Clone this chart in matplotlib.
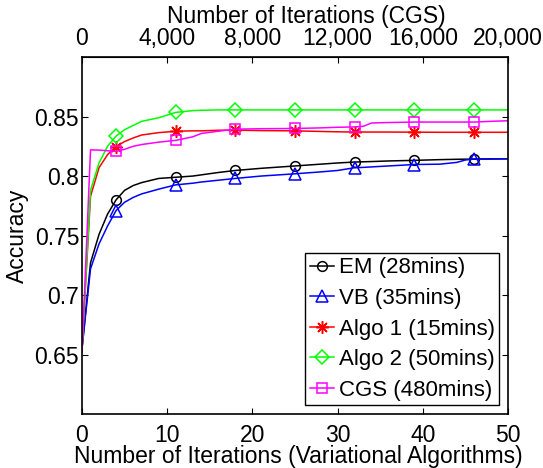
import matplotlib
matplotlib.use("Agg")
import matplotlib.pyplot as plt
from matplotlib.ticker import FixedLocator, FixedFormatter

# iteration numbers (variational algorithms); CGS uses 400x scale on top axis
iters = [0, 1, 2, 3, 4, 5, 6, 7, 9, 11, 13, 14, 16, 18, 21, 25, 28, 30,
         32, 33, 34, 36, 39, 42, 44, 45, 46, 48, 50]
marker_iters = [4, 11, 18, 25, 32, 39, 46]

em = [0.655, 0.727, 0.751, 0.768, 0.780, 0.788, 0.792, 0.7945, 0.798, 0.799,
      0.800, 0.801, 0.803, 0.8047, 0.8065, 0.8085, 0.810, 0.811, 0.8118, 0.812,
      0.8122, 0.8127, 0.8132, 0.8138, 0.8141, 0.8142, 0.8143, 0.8143, 0.8145]
vb = [0.655, 0.722, 0.743, 0.758, 0.771, 0.778, 0.782, 0.785, 0.789, 0.7926,
      0.794, 0.795, 0.7965, 0.798, 0.800, 0.8019, 0.8035, 0.8047, 0.807, 0.8073,
      0.8077, 0.8085, 0.8097, 0.810, 0.8115, 0.8135, 0.8143, 0.8145, 0.8145]
algo1 = [0.655, 0.783, 0.807, 0.818, 0.8248, 0.829, 0.832, 0.8345, 0.8365, 0.8377,
         0.838, 0.838, 0.8385, 0.8386, 0.8382, 0.838, 0.8375, 0.8372, 0.837, 0.837,
         0.837, 0.837, 0.8369, 0.8368, 0.8368, 0.8368, 0.8368, 0.8368, 0.8368]
algo2 = [0.655, 0.788, 0.811, 0.825, 0.8336, 0.839, 0.8425, 0.846, 0.849, 0.8535,
         0.855, 0.8553, 0.8556, 0.8556, 0.8556, 0.8556, 0.8556, 0.8556, 0.8556, 0.8556,
         0.8556, 0.8556, 0.8556, 0.8556, 0.8556, 0.8556, 0.8556, 0.8556, 0.8556]
cgs = [0.652, 0.822, 0.8218, 0.8213, 0.8207, 0.8225, 0.825, 0.8265, 0.8285, 0.830,
       0.833, 0.8358, 0.8377, 0.8394, 0.8398, 0.840, 0.8405, 0.841, 0.8413, 0.8418,
       0.8446, 0.845, 0.8454, 0.8454, 0.8454, 0.8454, 0.8454, 0.846, 0.8465]

labels = ["EM (28mins)", "VB (35mins)", "Algo 1 (15mins)", "Algo 2 (50mins)", "CGS (480mins)"]
ytick_vals = [0.65, 0.7, 0.75, 0.8, 0.85]
ytick_labels = ["0.65", "0.7", "0.75", "0.8", "0.85"]
top_ticks = [0, 4000, 8000, 12000, 16000, 20000]
top_labels = ["0", "4,000", "8,000", "12,000", "16,000", "20,000"]

plt.rcParams["font.family"] = ["Liberation Sans", "DejaVu Sans"]
plt.rcParams["font.size"] = 16.5

fig = plt.figure(figsize=(5.43, 4.68), dpi=100)
ax = fig.add_axes([0.151, 0.1154, 0.7845, 0.7626])

mask = [x in marker_iters for x in iters]
styles = [
    (em, "#000000", "o", 7),
    (vb, "#0000ff", "^", 8),
    (algo1, "#ff0000", (8, 2, 0), 9),
    (algo2, "#00ff00", "D", 7.5),
    (cgs, "#ff00ff", "s", 6.5),
]
for (vals, col, mk, ms), lab in zip(styles, labels):
    ax.plot(iters, vals, color=col, lw=1.1, marker=mk, markersize=ms,
            markerfacecolor="none", markeredgecolor=col, markeredgewidth=1.1,
            markevery=mask, label=lab)

ax.set_xlim(0, 50)
ax.set_ylim(0.6, 0.9)
ax.set_xticks([0, 10, 20, 30, 40, 50])
ax.yaxis.set_major_locator(FixedLocator(ytick_vals))
ax.yaxis.set_major_formatter(FixedFormatter(ytick_labels))
ax.tick_params(direction="in", length=4, width=0.8, right=True, top=False)
ax.tick_params(axis="x", pad=7)
ax.tick_params(axis="y", pad=2)
for s in ax.spines.values():
    s.set_linewidth(1.2)

ax.set_xlabel("Number of Iterations (Variational Algorithms)", labelpad=-1)
ax.xaxis.label.set_x(0.507)
ax.set_ylabel("Accuracy", labelpad=4)

top = ax.secondary_xaxis("top", functions=(lambda x: x * 400, lambda x: x / 400))
top.set_xticks(top_ticks)
top.set_xticklabels(top_labels)
top.tick_params(direction="in", length=4, width=0.8, pad=5)
top.set_xlabel("Number of Iterations (CGS)", labelpad=3)
top.xaxis.label.set_x(0.526)

leg = ax.legend(loc="lower right", fontsize=16, handlelength=1.1, handletextpad=0.2,
                labelspacing=0.43, borderpad=0.2, borderaxespad=0.4,
                fancybox=False, framealpha=1, edgecolor="black")
leg.get_frame().set_linewidth(1.0)

fig.savefig("out.png", dpi=100)
